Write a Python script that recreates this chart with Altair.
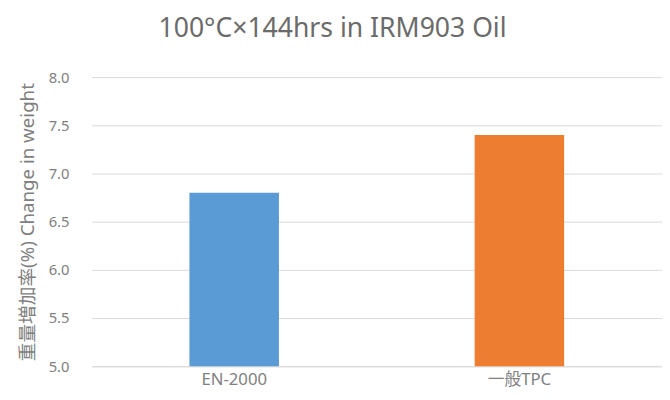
import altair as alt
import pandas as pd

categories = ["EN-2000", "一般TPC"]
values = [6.8, 7.4]
colors = ["#5B9BD5", "#ED7D31"]

df = pd.DataFrame({"cat": categories, "val": values, "col": colors})

FONT = "Noto Sans, Noto Sans CJK JP"
GREY = "#808080"

chart = alt.Chart(df).mark_bar(size=91, clip=True).encode(
    x=alt.X("cat:N", sort=categories, title=None,
            scale=alt.Scale(paddingInner=0.5, paddingOuter=0.25),
            axis=alt.Axis(labelAngle=0, domain=True, domainColor="#d9d9d9", ticks=False,
                          labelColor=GREY, labelFontSize=17, labelFont=FONT,
                          labelPadding=6)),
    y=alt.Y("val:Q", title="重量増加率(%) Change in weight",
            scale=alt.Scale(domain=[5, 8], zero=False, nice=False),
            axis=alt.Axis(values=[5, 5.5, 6, 6.5, 7, 7.5, 8], format=".1f", domain=False,
                          ticks=False, labelPadding=23, labelColor=GREY,
                          labelFontSize=15, labelFont=FONT, gridColor="#d9d9d9",
                          titleColor=GREY, titleFontSize=19, titleFont=FONT,
                          titleFontWeight="normal", titlePadding=11)),
    color=alt.Color("col:N", scale=None, legend=None),
).properties(
    width=580, height=294,
    autosize=alt.AutoSizeParams(type="none"),
    padding={"left": 85, "top": 67, "right": 0, "bottom": 30},
    title=alt.TitleParams("100°C×144hrs in IRM903 Oil", fontSize=27, font=FONT,
                          fontWeight="normal", color="#6b6b6b", dx=-45, offset=28),
).configure_view(stroke=None)

chart.save("out.html", embed_options={"renderer": "svg", "actions": False})
